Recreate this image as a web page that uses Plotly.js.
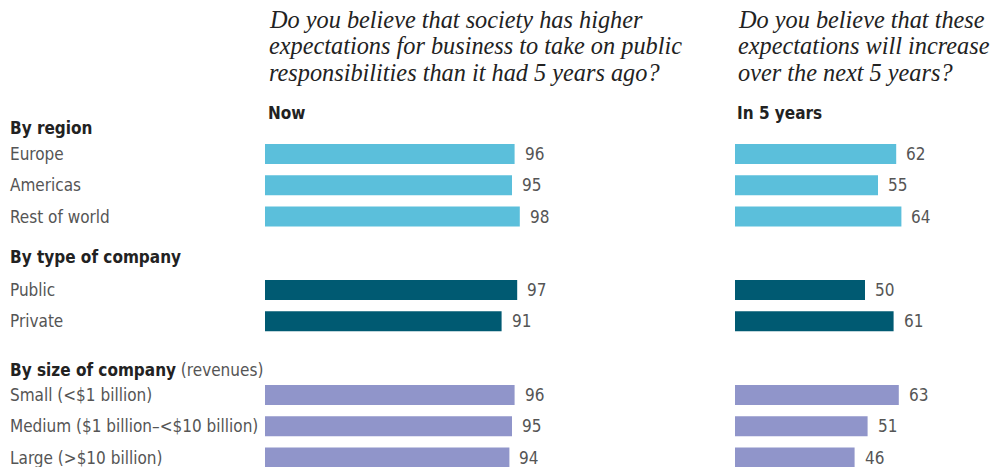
<!DOCTYPE html>
<html><head><meta charset="utf-8">
<script src="https://cdn.plot.ly/plotly-3.0.1.min.js"></script>
<style>html,body{margin:0;padding:0;background:#fff;}#chart{width:999px;height:467px;}</style>
</head><body><div id="chart"></div>
<script>
// ---- data ----
const groupNames = ["By region", "By type of company", "By size of company"];
const groupNotes = ["", "", "(revenues)"];
const categories = ["Europe", "Americas", "Rest of world", "Public", "Private",
  "Small (<$1 billion)", "Medium ($1 billion–<$10 billion)", "Large (>$10 billion)"];
const categoryGroup = [0, 0, 0, 1, 1, 2, 2, 2];
const nowValues = [96, 95, 98, 97, 91, 96, 95, 94];
const futureValues = [62, 55, 64, 50, 61, 63, 51, 46];
const panelQuestions = [
  ["Do you believe that society has higher", "expectations for business to take on public", "responsibilities than it had 5 years ago?"],
  ["Do you believe that these", "expectations will increase", "over the next 5 years?"]
];
const panelHeads = ["Now", "In 5 years"];

// ---- layout / style ----
const W = 999, H = 467;
const groupColors = ["#5bbfdb", "#005a72", "#9095ca"];
const headerY = [128, 257, 370];
const firstRowGap = [26, 33, 25];
const pitch = 31.3;
const barPx = 20;
const questionLineY = [19, 45.5, 72];
const sans = "'Liberation Sans Narrow', 'DejaVu Sans Condensed', 'Arial Narrow', sans-serif";
const serif = "'Liberation Serif', 'DejaVu Serif', serif";
const labelColor = "#555555";
const headColor = "#222222";

const rowY = [];
const counters = [0, 0, 0];
categories.forEach((c, i) => {
  const g = categoryGroup[i];
  rowY.push(headerY[g] + firstRowGap[g] + counters[g] * pitch);
  counters[g]++;
});
const barColors = categoryGroup.map(g => groupColors[g]);

const traces = [
  {type: "bar", orientation: "h", x: nowValues, y: rowY, width: barPx,
   marker: {color: barColors}, xaxis: "x", yaxis: "y", hoverinfo: "skip"},
  {type: "bar", orientation: "h", x: futureValues, y: rowY, width: barPx,
   marker: {color: barColors}, xaxis: "x2", yaxis: "y", hoverinfo: "skip"}
];

const annotations = [];
categories.forEach((c, i) => {
  annotations.push({xref: "paper", yref: "y", x: 8 / W, y: rowY[i], xanchor: "left", yanchor: "middle",
    text: c, showarrow: false, font: {family: sans, size: 17, color: labelColor}});
});
groupNames.forEach((g, i) => {
  const note = groupNotes[i] ? " <span style='font-weight:normal;color:" + labelColor + "'>" + groupNotes[i] + "</span>" : "";
  annotations.push({xref: "paper", yref: "y", x: 8 / W, y: headerY[i], xanchor: "left", yanchor: "middle",
    text: "<b>" + g + "</b>" + note, showarrow: false, font: {family: sans, size: 17, color: headColor}});
});
[nowValues, futureValues].forEach((vals, p) => {
  vals.forEach((v, i) => {
    annotations.push({xref: p === 0 ? "x" : "x2", yref: "y", x: v, y: rowY[i], xanchor: "left", yanchor: "middle",
      xshift: 8, text: String(v), showarrow: false, font: {family: sans, size: 17, color: labelColor}});
  });
});
const panelLeft = [267, 736];
panelQuestions.forEach((lines, p) => {
  lines.forEach((line, k) => {
    annotations.push({xref: "paper", yref: "y", x: panelLeft[p] / W, y: questionLineY[k], xanchor: "left", yanchor: "middle",
      text: "<i>" + line + "</i>", showarrow: false, font: {family: serif, size: 24.3, color: headColor}});
  });
  annotations.push({xref: "paper", yref: "y", x: (panelLeft[p] - 1) / W, y: 113, xanchor: "left", yanchor: "middle",
    text: "<b>" + panelHeads[p] + "</b>", showarrow: false, font: {family: sans, size: 17, color: headColor}});
});

const axisX = {range: [0, 100], showgrid: false, zeroline: false, showticklabels: false, showline: false, ticks: "", fixedrange: true};
const layout = {
  width: W, height: H, margin: {l: 0, r: 0, t: 0, b: 0},
  paper_bgcolor: "#ffffff", plot_bgcolor: "#ffffff", showlegend: false,
  xaxis: Object.assign({}, axisX, {domain: [265 / W, 525 / W]}),
  xaxis2: Object.assign({}, axisX, {domain: [735 / W, 995 / W], anchor: "y"}),
  yaxis: {range: [H, 0], domain: [0, 1], showgrid: false, zeroline: false, showticklabels: false, ticks: "", showline: false, fixedrange: true},
  annotations: annotations
};
Plotly.newPlot("chart", traces, layout, {displayModeBar: false, staticPlot: true});
</script></body></html>
